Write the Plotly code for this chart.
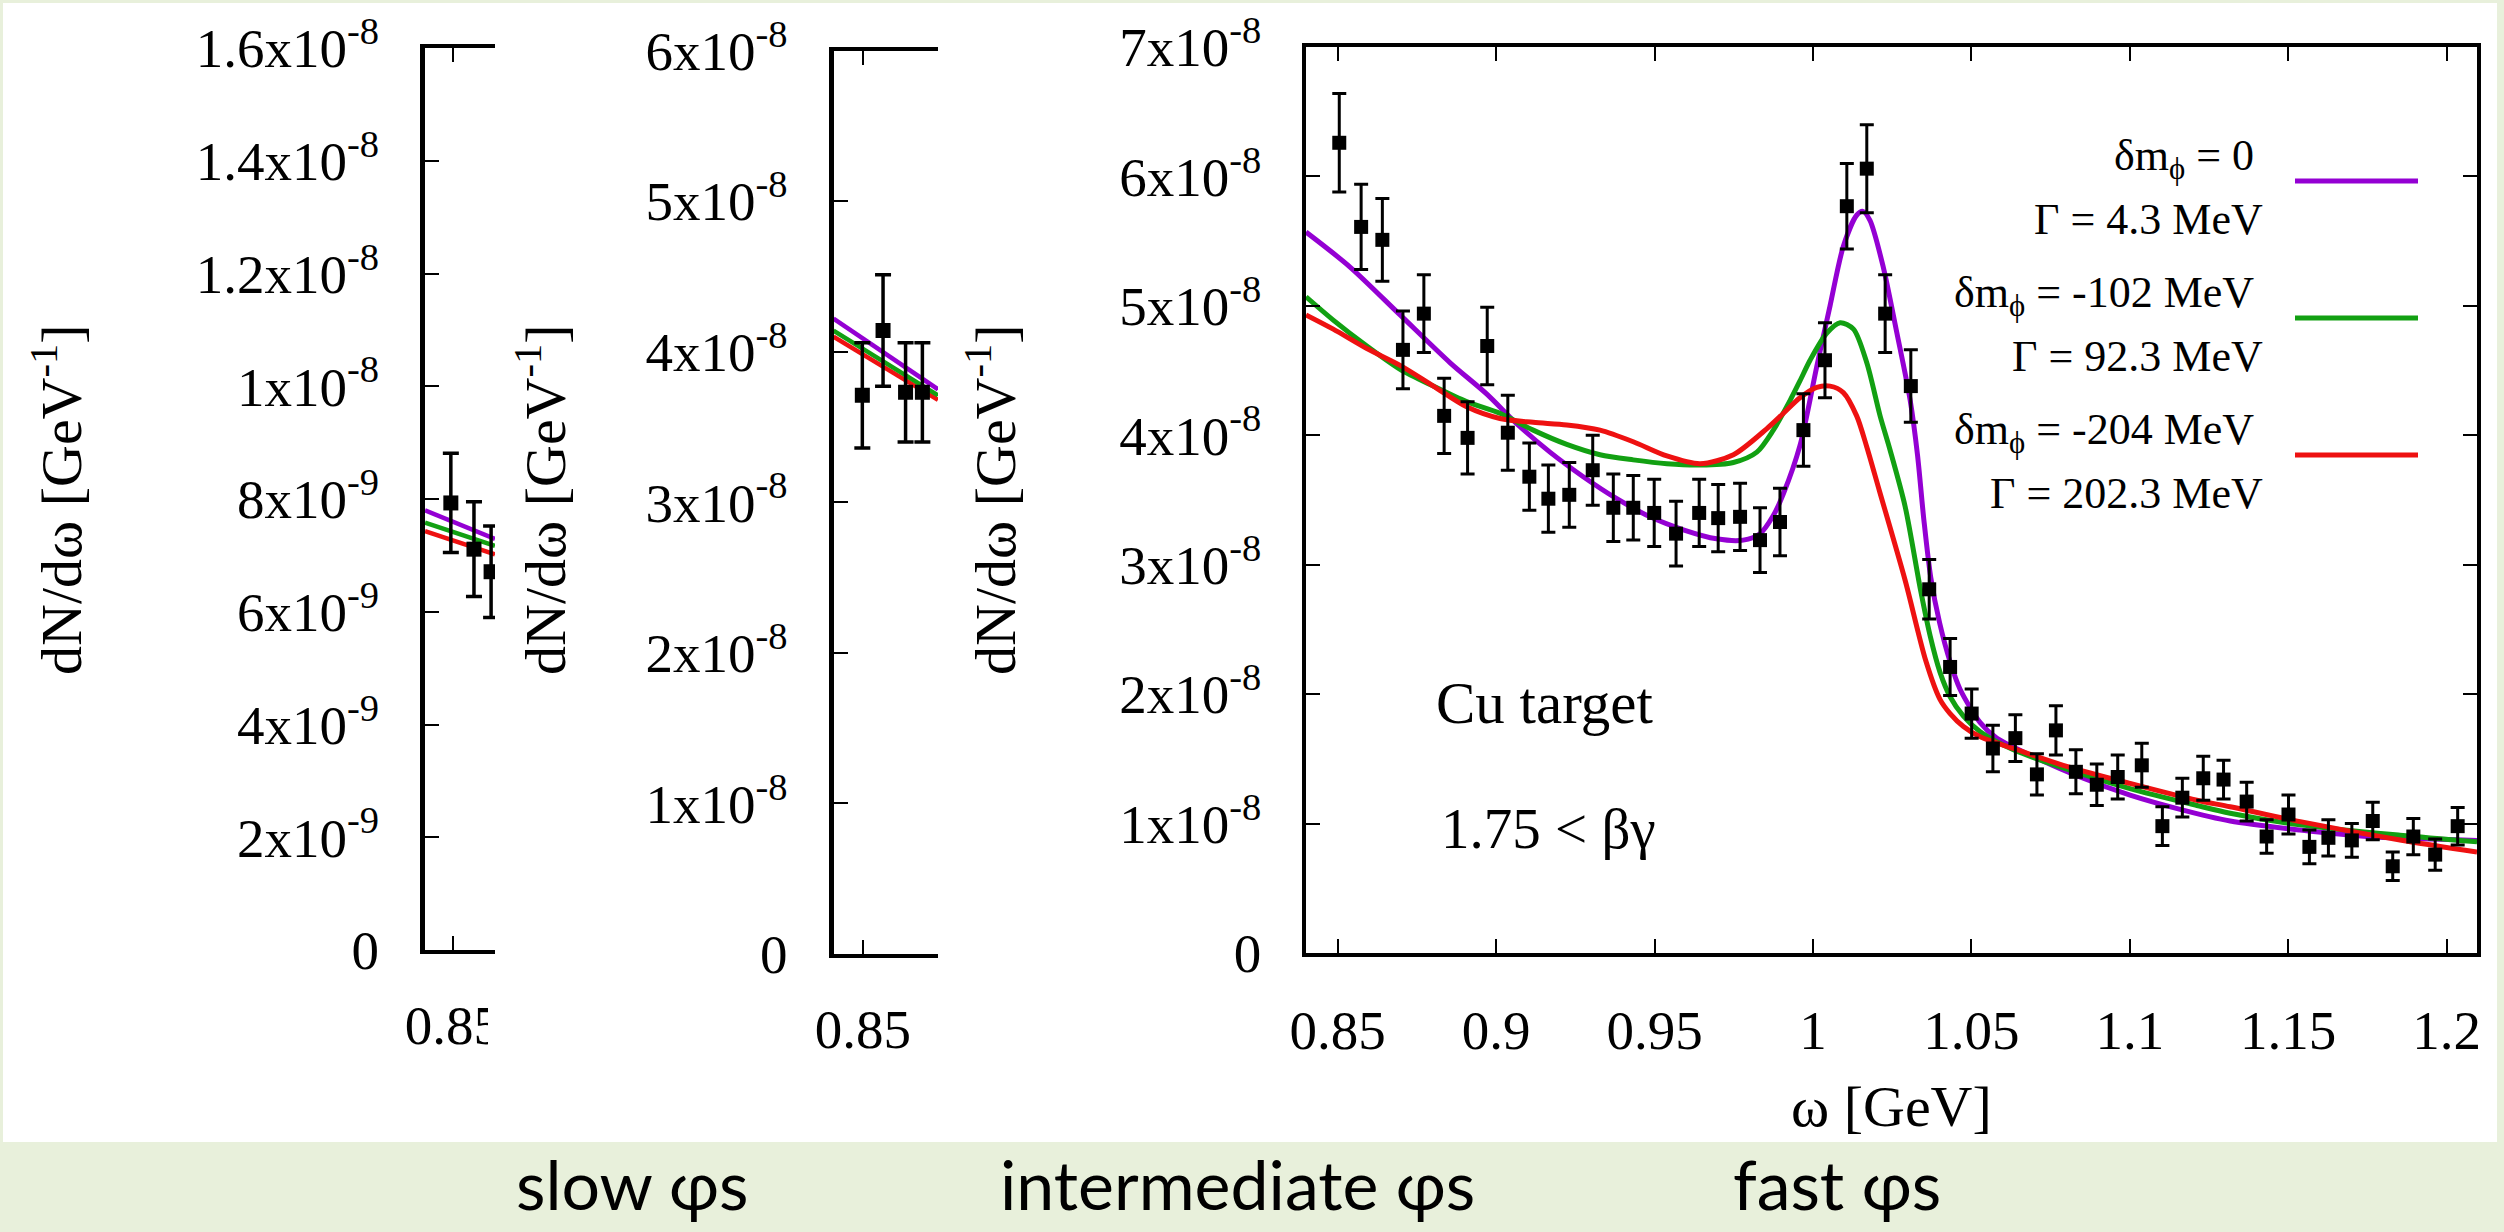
import plotly.graph_objects as go

W, H = 2504, 1232
SERIF = "Liberation Serif, Times New Roman, serif"
SANS = "Lato, Noto Sans, sans-serif"
PURPLE, GREEN, RED = "#9400D3", "#12A012", "#EE1111"
BAND = "#E8F0DB"

# ---------------- data ----------------
# slow phis panel (values in GeV^-1)
slow_x = [0.8493, 0.8570, 0.8627]
slow_y = [7.93e-9, 7.11e-9, 6.71e-9]
slow_err = [0.88e-9, 0.84e-9, 0.81e-9]
slow_curve_x = [0.8407, 0.8640]
slow_purple = [7.80e-9, 7.29e-9]
slow_green = [7.58e-9, 7.17e-9]
slow_red = [7.43e-9, 7.02e-9]
slow_ytickvals = [0, 2e-9, 4e-9, 6e-9, 8e-9, 1e-8, 1.2e-8, 1.4e-8, 1.6e-8]
slow_yticktext = ["0", "2x10<sup>-9</sup>", "4x10<sup>-9</sup>", "6x10<sup>-9</sup>",
                  "8x10<sup>-9</sup>", "1x10<sup>-8</sup>", "1.2x10<sup>-8</sup>",
                  "1.4x10<sup>-8</sup>", "1.6x10<sup>-8</sup>"]

# intermediate phis panel
mid_x = [0.8498, 0.8567, 0.8642, 0.8698]
mid_y = [3.71e-8, 4.14e-8, 3.73e-8, 3.73e-8]
mid_err = [0.35e-8, 0.37e-8, 0.33e-8, 0.33e-8]
mid_curve_x = [0.8402, 0.8750]
mid_purple = [4.22e-8, 3.75e-8]
mid_green = [4.14e-8, 3.71e-8]
mid_red = [4.10e-8, 3.68e-8]
mid_ytickvals = [0, 1e-8, 2e-8, 3e-8, 4e-8, 5e-8, 6e-8]
mid_yticktext = ["0"] + ["%dx10<sup>-8</sup>" % i for i in range(1, 7)]

# fast phis panel (values in units of 1e-8 GeV^-1)
fast_x = [0.8505, 0.8574, 0.8641, 0.8706, 0.8772, 0.8836, 0.8910, 0.8972, 0.9037, 0.9105,
          0.9165, 0.9231, 0.9305, 0.9370, 0.9433, 0.9499, 0.9568, 0.9641, 0.9701, 0.9770,
          0.9833, 0.9896, 0.9970, 1.0038, 1.0107, 1.0170, 1.0228, 1.0309, 1.0367, 1.0433,
          1.0501, 1.0568, 1.0639, 1.0707, 1.0767, 1.0830, 1.0896, 1.0962, 1.1038, 1.1103,
          1.1166, 1.1232, 1.1296, 1.1369, 1.1432, 1.1501, 1.1567, 1.1627, 1.1701, 1.1767,
          1.1830, 1.1895, 1.1964, 1.2035]
fast_y_e8 = [6.26, 5.61, 5.51, 4.66, 4.94, 4.15, 3.98, 4.69, 4.02, 3.68,
             3.51, 3.54, 3.73, 3.44, 3.44, 3.40, 3.24, 3.40, 3.36, 3.37,
             3.19, 3.33, 4.04, 4.58, 5.77, 6.06, 4.94, 4.38, 2.81, 2.21,
             1.85, 1.58, 1.66, 1.38, 1.72, 1.40, 1.30, 1.36, 1.45, 0.98,
             1.20, 1.35, 1.34, 1.17, 0.90, 1.07, 0.82, 0.89, 0.87, 1.02,
             0.67, 0.90, 0.76, 0.98]
fast_err_e8 = [0.38, 0.33, 0.32, 0.30, 0.30, 0.29, 0.28, 0.30, 0.29, 0.26,
               0.26, 0.25, 0.27, 0.26, 0.25, 0.26, 0.25, 0.26, 0.26, 0.26,
               0.25, 0.26, 0.28, 0.29, 0.33, 0.34, 0.30, 0.28, 0.23, 0.22,
               0.19, 0.18, 0.18, 0.16, 0.19, 0.17, 0.16, 0.17, 0.17, 0.15,
               0.15, 0.17, 0.15, 0.15, 0.13, 0.15, 0.13, 0.14, 0.13, 0.145,
               0.11, 0.14, 0.12, 0.145]

purple_x = [0.8400, 0.8539, 0.8697, 0.8855, 0.8970, 0.9065, 0.9170, 0.9275, 0.9381, 0.9486,
            0.9591, 0.9696, 0.9780, 0.9833, 0.9875, 0.9907, 0.9959, 1.0012, 1.0054, 1.0096,
            1.0138, 1.0158, 1.0180, 1.0222, 1.0265, 1.0307, 1.0330, 1.0350, 1.0372, 1.0400,
            1.0433, 1.0464, 1.0528, 1.0580, 1.0685, 1.0843, 1.1001, 1.1159, 1.1317, 1.1538,
            1.1748, 1.2096]
purple_y_e8 = [5.57, 5.30, 4.93, 4.56, 4.32, 4.09, 3.87, 3.68, 3.51, 3.37,
               3.27, 3.20, 3.19, 3.24, 3.38, 3.55, 3.92, 4.53, 5.00, 5.46,
               5.70, 5.73, 5.66, 5.30, 4.79, 4.27, 3.85, 3.35, 2.90, 2.55,
               2.25, 2.04, 1.78, 1.66, 1.53, 1.36, 1.22, 1.11, 1.02, 0.95,
               0.90, 0.87]
green_x = [0.8400, 0.8486, 0.8592, 0.8697, 0.8802, 0.8907, 0.9012, 0.9117, 0.9223, 0.9328,
           0.9433, 0.9539, 0.9644, 0.9749, 0.9823, 0.9875, 0.9928, 0.9959, 0.9991, 1.0044,
           1.0086, 1.0128, 1.0170, 1.0212, 1.0243, 1.0291, 1.0340, 1.0370, 1.0401, 1.0433,
           1.0475, 1.0528, 1.0633, 1.0790, 1.1001, 1.1212, 1.1317, 1.1538, 1.1853, 1.2096]
green_y_e8 = [5.07, 4.89, 4.69, 4.51, 4.38, 4.26, 4.17, 4.04, 3.93, 3.85,
              3.81, 3.78, 3.77, 3.79, 3.87, 4.04, 4.27, 4.42, 4.58, 4.79,
              4.87, 4.82, 4.56, 4.15, 3.89, 3.45, 2.80, 2.45, 2.17, 1.98,
              1.83, 1.71, 1.57, 1.43, 1.27, 1.14, 1.08, 0.99, 0.91, 0.86]
red_x = [0.8400, 0.8486, 0.8592, 0.8697, 0.8802, 0.8907, 0.9012, 0.9117, 0.9223, 0.9328,
         0.9433, 0.9539, 0.9644, 0.9749, 0.9854, 0.9907, 0.9959, 1.0012, 1.0054, 1.0096,
         1.0138, 1.0170, 1.0210, 1.0291, 1.0356, 1.0401, 1.0433, 1.0475, 1.0528, 1.0633,
         1.0790, 1.1001, 1.1212, 1.1317, 1.1538, 1.1853, 1.2096]
red_y_e8 = [4.93, 4.82, 4.67, 4.54, 4.38, 4.22, 4.13, 4.10, 4.08, 4.04,
            3.95, 3.84, 3.78, 3.85, 4.05, 4.17, 4.29, 4.37, 4.38, 4.33,
            4.15, 3.91, 3.57, 2.88, 2.26, 1.96, 1.85, 1.75, 1.67, 1.58,
            1.45, 1.31, 1.18, 1.13, 1.015, 0.873, 0.78]
fast_ytickvals = [0, 1e-8, 2e-8, 3e-8, 4e-8, 5e-8, 6e-8, 7e-8]
fast_yticktext = ["0"] + ["%dx10<sup>-8</sup>" % i for i in range(1, 8)]
fast_xtickvals = [0.85, 0.9, 0.95, 1.0, 1.05, 1.1, 1.15, 1.2]
fast_xticktext = ["0.85", "0.9", "0.95", "1", "1.05", "1.1", "1.15", "1.2"]

legend_rows = [("δm<sub>ϕ</sub> = 0", "Γ = 4.3 MeV", PURPLE),
               ("δm<sub>ϕ</sub> = -102 MeV", "Γ = 92.3 MeV", GREEN),
               ("δm<sub>ϕ</sub> = -204 MeV", "Γ = 202.3 MeV", RED)]
band_labels = ["slow φs", "intermediate φs", "fast φs"]

E8 = 1e-8
fy = [v * E8 for v in fast_y_e8]
fe = [v * E8 for v in fast_err_e8]

# ---------------- figure ----------------
fig = go.Figure()

def add_curves(xa, ya, cx, cols, width):
    for xs, ys, col in zip(cx, cols[0], cols[1]):
        fig.add_trace(go.Scatter(x=xs, y=ys, mode="lines", xaxis=xa, yaxis=ya,
                                 line=dict(color=col, width=width, shape="spline", smoothing=0.8),
                                 showlegend=False, hoverinfo="skip"))

def add_points(xa, ya, x, y, e, msize, thick, cap):
    fig.add_trace(go.Scatter(x=x, y=y, mode="markers", xaxis=xa, yaxis=ya,
                             marker=dict(symbol="square", size=msize, color="black"),
                             error_y=dict(type="data", array=e, visible=True, color="black",
                                          thickness=thick, width=cap),
                             showlegend=False))

# slow
add_curves("x", "y", [slow_curve_x] * 3,
           ([slow_red, slow_green, slow_purple], [RED, GREEN, PURPLE]), 4.5)
add_points("x", "y", slow_x, slow_y, slow_err, 15, 3.5, 8)
# intermediate
add_curves("x2", "y2", [mid_curve_x] * 3,
           ([mid_red, mid_green, mid_purple], [RED, GREEN, PURPLE]), 4.5)
add_points("x2", "y2", mid_x, mid_y, mid_err, 15, 3.5, 8)
# fast
add_curves("x3", "y3", [purple_x, green_x, red_x],
           ([[v * E8 for v in purple_y_e8], [v * E8 for v in green_y_e8],
             [v * E8 for v in red_y_e8]], [PURPLE, GREEN, RED]), 5)
add_points("x3", "y3", fast_x, fy, fe, 14, 3, 7)


def px(x):
    return x / W


def py(y):
    return 1 - y / H


tickfont = dict(family=SERIF, size=55, color="black")
common = dict(showline=True, linecolor="black", ticks="inside", tickcolor="black",
              tickwidth=2, ticklen=14, showgrid=False, zeroline=False, tickfont=tickfont,
              fixedrange=True, automargin=False)

fig.update_layout(
    xaxis=dict(domain=[px(425), px(495)], range=[0.8407, 0.8640], anchor="y",
               tickvals=[0.85], ticktext=["0.85"], mirror="ticks", linewidth=4,
               ticklabelstandoff=24, **common),
    yaxis=dict(domain=[py(950), py(48)], range=[0, 1.6e-8], anchor="x",
               tickvals=slow_ytickvals, ticktext=slow_yticktext, mirror=False, linewidth=5,
               ticklabelstandoff=30, **common),
    xaxis2=dict(domain=[px(833.5), px(938)], range=[0.8402, 0.8750], anchor="y2",
                tickvals=[0.85], ticktext=["0.85"], mirror="ticks", linewidth=4,
                ticklabelstandoff=24, **common),
    yaxis2=dict(domain=[py(954), py(50.5)], range=[0, 6e-8], anchor="x2",
                tickvals=mid_ytickvals, ticktext=mid_yticktext, mirror=False, linewidth=5,
                ticklabelstandoff=30, **common),
    xaxis3=dict(domain=[px(1306), px(2477)], range=[0.84, 1.2096], anchor="y3",
                tickvals=fast_xtickvals, ticktext=fast_xticktext, mirror="ticks", linewidth=3.5,
                ticklabelstandoff=26, **common),
    yaxis3=dict(domain=[py(953), py(47)], range=[0, 7e-8], anchor="x3",
                tickvals=fast_ytickvals, ticktext=fast_yticktext, mirror="ticks", linewidth=3.5,
                ticklabelstandoff=30, **common),
)

shapes = []
# slide background: white area with light-green frame and bottom band
shapes.append(dict(type="rect", xref="paper", yref="paper", x0=px(3), x1=px(2497),
                   y0=py(1142), y1=py(3), fillcolor="white", line=dict(width=0), layer="below"))
# crop mask for the clipped slow-panel tick label
shapes.append(dict(type="rect", xref="paper", yref="paper", x0=px(488), x1=px(560),
                   y0=py(1060), y1=py(965), fillcolor="white", line=dict(width=0), layer="above"))
# legend sample lines
for i, (_, _, col) in enumerate(legend_rows):
    yy = py(181 + 137 * i)
    shapes.append(dict(type="line", xref="paper", yref="paper", x0=px(2295), x1=px(2418),
                       y0=yy, y1=yy, line=dict(color=col, width=5), layer="above"))

ann = []

def note(text, x, y, size, family=SERIF, xanchor="center", yanchor="middle", angle=0):
    ann.append(dict(text=text, x=px(x), y=py(y), xref="paper", yref="paper", showarrow=False,
                    xanchor=xanchor, yanchor=yanchor, textangle=angle,
                    font=dict(family=family, size=size, color="black")))

ytitle = "dN/dω [GeV<sup>-1</sup>]"
note(ytitle, 57, 500, 58, angle=-90)
note(ytitle, 541, 500, 58, angle=-90)
note(ytitle, 991, 500, 58, angle=-90)
note("ω [GeV]", 1891, 1106, 58)
note("Cu target", 1434, 703, 59, xanchor="left")
note("1.75 &lt; βγ", 1439, 828, 57, xanchor="left")
for i, (l1, l2, _) in enumerate(legend_rows):
    note(l1, 2256, 158 + 137 * i, 44, xanchor="right")
    note(l2, 2265, 219 + 137 * i, 44, xanchor="right")
for text, x in zip(band_labels, [514, 998, 1731]):
    note(text, x, 1183, 68, family=SANS, xanchor="left")

fig.update_layout(width=W, height=H, autosize=False,
                  margin=dict(l=0, r=0, t=0, b=0, pad=0, autoexpand=False),
                  paper_bgcolor=BAND, plot_bgcolor="rgba(0,0,0,0)",
                  shapes=shapes, annotations=ann, showlegend=False)

fig.write_html("out.html", config={"displayModeBar": False})
